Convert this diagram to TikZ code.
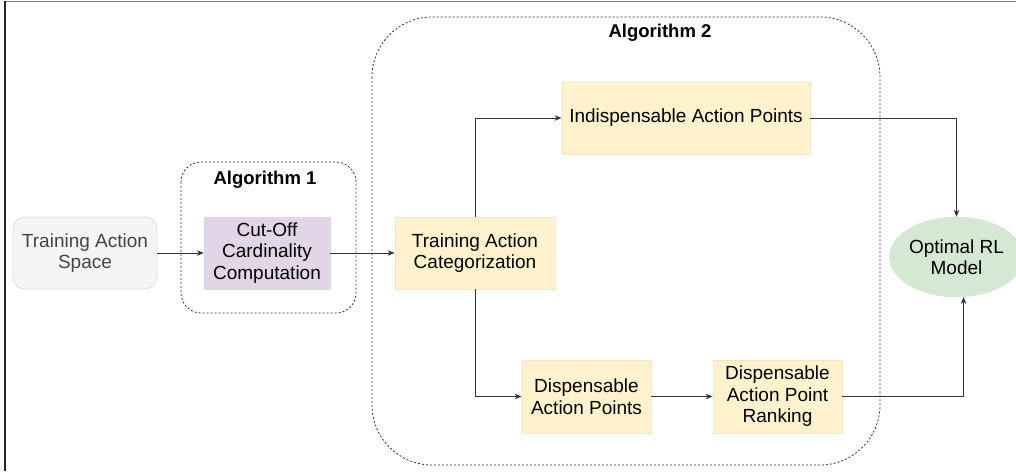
\documentclass[tikz,border=0pt]{standalone}
\usepackage{fontspec}
\setmainfont{Liberation Sans}
\usetikzlibrary{arrows.meta,shapes.geometric,calc}

\definecolor{spacefill}{HTML}{F5F5F5}
\definecolor{spaceline}{HTML}{DDDDDD}
\definecolor{spacetext}{HTML}{444444}
\definecolor{purplefill}{HTML}{E1D5E7}
\definecolor{yellowfill}{HTML}{FFF2CC}
\definecolor{yellowline}{HTML}{F3E6C2}
\definecolor{greenfill}{HTML}{D5E8D4}
\definecolor{linecol}{HTML}{333333}

\tikzset{
  every node/.style={font=\fontsize{19}{21.5}\selectfont, align=center, inner sep=0pt},
  box/.style={rectangle, minimum width=#1, minimum height=72},
  inputbox/.style={box=144, rounded corners=12, fill=spacefill, draw=spaceline, line width=0.8pt, text=spacetext},
  algobox/.style={box=126, fill=purplefill, draw=purplefill},
  stagebox/.style={box=#1, fill=yellowfill, draw=yellowline, line width=0.8pt},
  goal/.style={ellipse, minimum width=117, minimum height=80, fill=greenfill, draw=greenfill},
  group/.style={draw=linecol, line width=0.8pt, dash pattern=on 2pt off 2pt},
  grouptitle/.style={font=\fontsize{18.5}{21}\selectfont\bfseries},
  arr/.style={draw=linecol, line width=0.9pt, -{Stealth[length=7pt,width=5.5pt]}},
}

\begin{document}
\begin{tikzpicture}[x=1pt,y=-1pt]
  \useasboundingbox (0,0) rectangle (1016,471);

  % frame edges
  \draw[line width=1.5pt, draw=gray] (4,1.5) -- (1016,1.5);
  \draw[line width=2pt, draw=black!85] (4.5,0.5) -- (4.5,471);

  % algorithm groups
  \draw[group, rounded corners=20] (181,162) rectangle (356,313);
  \node[grouptitle] (t1) at (265,180) {Algorithm 1};
  \draw[group, rounded corners=60] (372,17) rectangle (880,465);
  \node[grouptitle] (t2) at (660,33) {Algorithm 2};

  % nodes
  \node[inputbox] (space) at (85,253) {Training Action\\Space};
  \node[algobox] (cut) at (267,253) {Cut-Off\\Cardinality\\Computation};
  \node[stagebox=160] (cat) at (475,253) {Training Action\\Categorization};
  \node[stagebox=248] (ind) at (686,118) {Indispensable Action Points};
  \node[stagebox=129, minimum height=73] (dis) at (586.5,396.5) {Dispensable\\Action Points};
  \node[stagebox=129, minimum height=73] (rank) at (777.5,396.5) {Dispensable\\Action Point\\Ranking};
  \node[goal] (opt) at (956.5,257) {Optimal RL\\Model};

  % connectors
  \draw[arr] (space) -- (cut);
  \draw[arr] (cut) -- (cat);
  \draw[arr] (cat.north) |- (ind.west);
  \draw[arr] (cat.south) |- (dis.west);
  \draw[arr] (dis) -- (rank);
  \draw[arr] (ind.east) -| (opt.north);
  \draw[arr] (rank.east) -| (opt.-80.7);
\end{tikzpicture}
\end{document}
